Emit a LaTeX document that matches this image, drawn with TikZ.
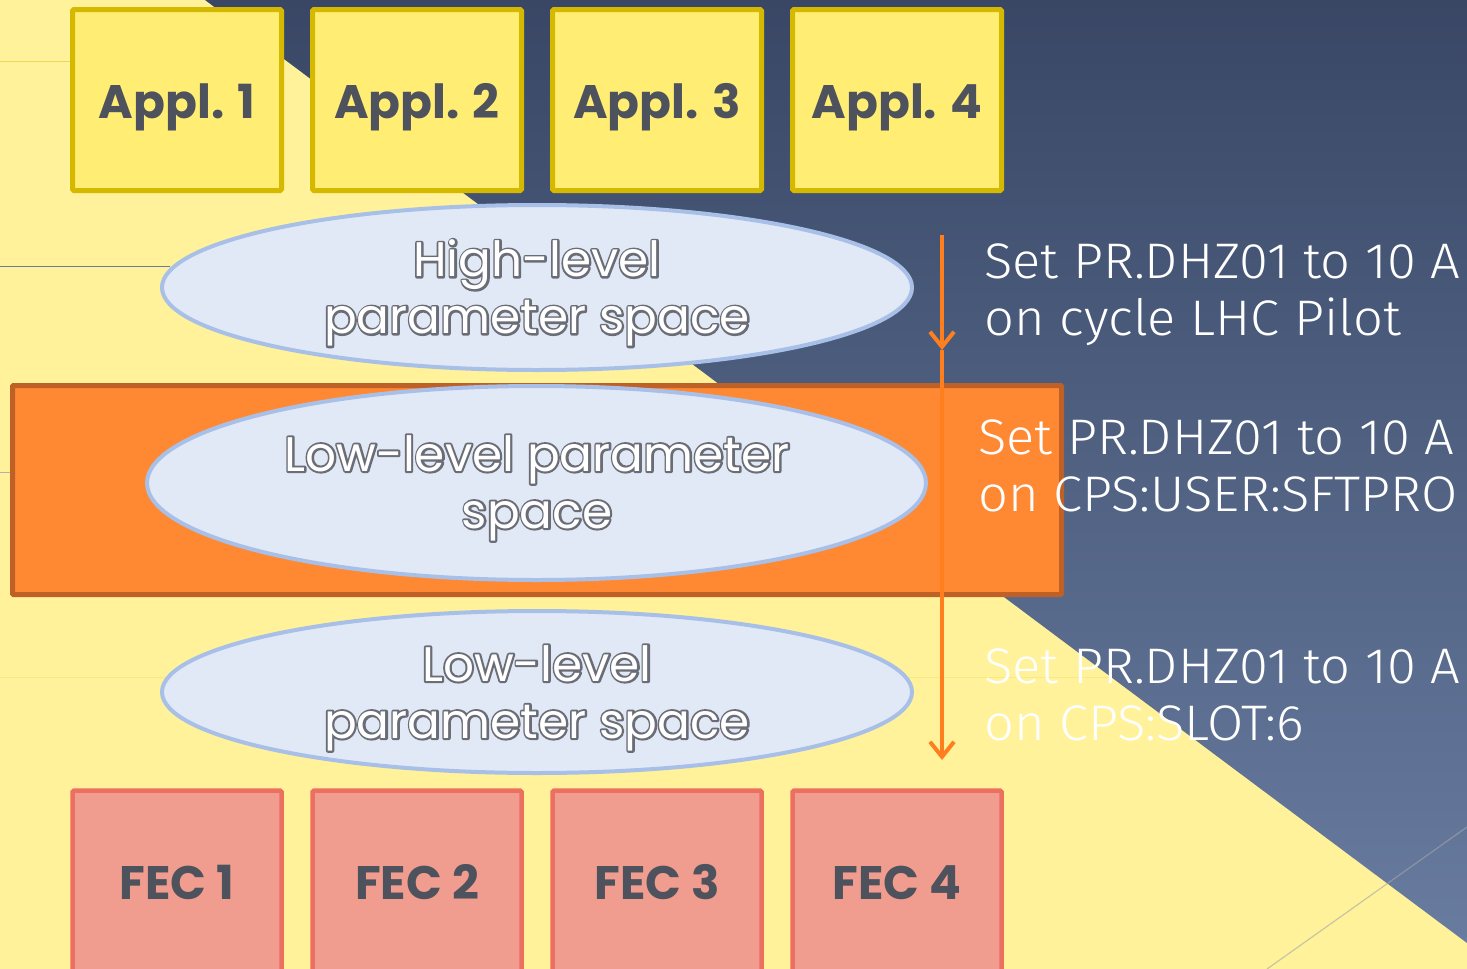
\documentclass[tikz,border=0pt]{standalone}
\usepackage{fontspec}
\usetikzlibrary{shapes.geometric,arrows.meta}
\newfontfamily\geo{Poppins}
\newfontfamily\lightsans{Fira Sans Light}[FakeStretch=1.05]
\newcommand{\strokedtext}[1]{\special{pdf:code 2 Tr 4 w 1 j}#1\special{pdf:code 0 Tr 0.4 w 0 j}}
\definecolor{bgyellow}{HTML}{FFF29A}
\definecolor{bgbluetop}{HTML}{394765}
\definecolor{bgbluebot}{HTML}{687CA0}
\definecolor{applfill}{HTML}{FFEE73}
\definecolor{applborder}{HTML}{D4B900}
\definecolor{fecfill}{HTML}{F09D8F}
\definecolor{fecborder}{HTML}{EC7060}
\definecolor{ellfill}{HTML}{E1E9F6}
\definecolor{ellborder}{HTML}{A8C0E8}
\definecolor{barfill}{HTML}{FF8833}
\definecolor{barborder}{HTML}{BF6127}
\definecolor{arrowc}{HTML}{FF7F1F}
\definecolor{labelgray}{HTML}{4D525C}
\definecolor{outlinegray}{HTML}{6A6D76}
\begin{document}
\begin{tikzpicture}[x=1pt,y=-1pt,
  applbox/.style={draw=applborder, fill=applfill, line width=5pt, rounded corners=1.5pt,
    minimum width=209pt, minimum height=181pt, inner sep=0pt,
    font=\geo\bfseries\fontsize{47}{56}\selectfont, text=labelgray,
    text height=36pt, text depth=0pt},
  fecbox/.style={applbox, draw=fecborder, fill=fecfill, line width=4.5pt},
  ellbox/.style={ellipse, draw=ellborder, fill=ellfill, line width=4pt, inner sep=0pt},
  elltext/.style={align=center, inner sep=0pt, text=white, font=\geo\fontsize{48.5}{57}\selectfont},
  ellrim/.style={elltext, text=outlinegray},
  barbox/.style={draw=barborder, fill=barfill, line width=5pt, inner sep=0pt, rounded corners=1pt},
  note/.style={anchor=north west, inner sep=0pt, align=left, text=white,
    font=\lightsans\fontsize{50}{57}\selectfont},
  flow/.style={draw=arrowc, line width=4pt, -{Straight Barb[length=15pt,width=24pt,line width=4pt]}}
]
\clip (0,0) rectangle (1467,969);
% background
\fill[bgyellow] (0,0) rectangle (1467,969);
\shade[top color=bgbluetop, bottom color=bgbluebot] (205,0) -- (1467,0) -- (1467,943) -- cycle;
% faint decorative lines
\draw[line width=1pt, color=applborder!45!bgyellow] (0,61) -- (80,61);
\draw[line width=1pt, color=bgbluebot] (0,266) -- (170,266);
\draw[line width=1pt, color=gray!60] (0,472) -- (14,472);
\draw[line width=1pt, color=applborder!15!bgyellow] (0,677) -- (1112,677);
\draw[line width=1.2pt, color=gray!70, opacity=0.6] (1267,969) -- (1467,827);

% application boxes
\node[applbox] (a1) at (177,100) {Appl. 1};
\node[applbox] (a2) at (417,100) {Appl. 2};
\node[applbox] (a3) at (657,100) {Appl. 3};
\node[applbox] (a4) at (897,100) {Appl. 4};

% high-level ellipse
\node[ellbox, minimum width=750pt, minimum height=165pt] (e1) at (537,287.5) {};
\node[ellrim] (e1o) at (537,293) {\strokedtext{High-level}\\\strokedtext{parameter space}};
\node[elltext] (e1t) at (537,293) {High-level\\parameter space};

% orange bar
\node[barbox, minimum width=1049pt, minimum height=209pt] (bar) at (537,490) {};
\node[ellbox, minimum width=779pt, minimum height=194pt] (e2) at (536.5,483) {};
\node[ellrim] (e2o) at (537,488) {\strokedtext{Low-level parameter}\\\strokedtext{space}};
\node[elltext] (e2t) at (537,488) {Low-level parameter\\space};

% low-level ellipse
\node[ellbox, minimum width=750pt, minimum height=162pt] (e3) at (537,692) {};
\node[ellrim] (e3o) at (537,698) {\strokedtext{Low-level}\\\strokedtext{parameter space}};
\node[elltext] (e3t) at (537,698) {Low-level\\parameter space};

% FEC boxes
\node[fecbox] (f1) at (177,881) {FEC 1};
\node[fecbox] (f2) at (417,881) {FEC 2};
\node[fecbox] (f3) at (657,881) {FEC 3};
\node[fecbox] (f4) at (897,881) {FEC 4};

% arrow
\coordinate (arrTop) at (942,235);
\coordinate (arrMid) at (942,350);
\coordinate (arrEnd) at (942,760);
\draw[flow] (arrTop) -- (arrMid);
\draw[flow] (arrMid) -- (arrEnd);

% notes
\node[note] (n1) at (984,243) {Set PR.DHZ01 to 10 A\\on cycle LHC Pilot};
\node[note] (n2) at (978,419) {Set PR.DHZ01 to 10 A\\on CPS:USER:SFTPRO};
\node[note] (n3) at (984,648) {Set PR.DHZ01 to 10 A\\on CPS:SLOT:6};
\end{tikzpicture}
\end{document}
